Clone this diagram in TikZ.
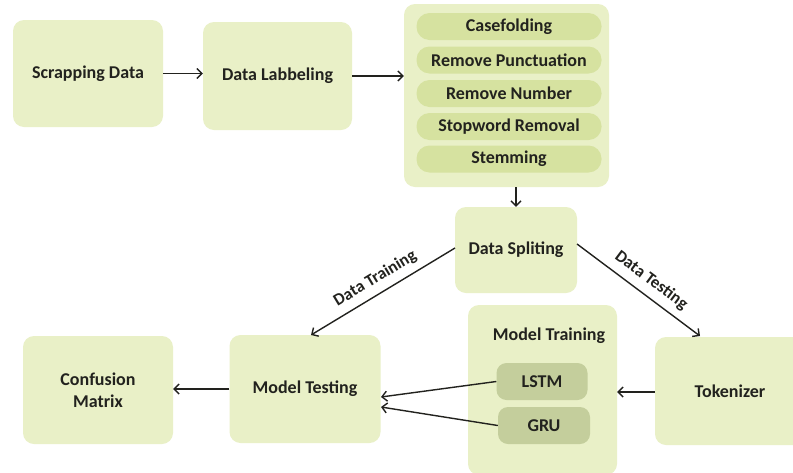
\documentclass[tikz,border=0pt]{standalone}
\usepackage{fontspec}
\setmainfont{Carlito}
\usetikzlibrary{arrows.meta}
\definecolor{boxfill}{RGB}{233,240,199}
\definecolor{pillfill}{RGB}{214,226,160}
\definecolor{modfill}{RGB}{196,206,156}
\definecolor{txt}{RGB}{34,34,30}
\tikzset{
  box/.style={fill=boxfill, rounded corners=11pt, inner sep=0pt, align=center, text=txt, font=\fontsize{18}{22}\selectfont\bfseries},
  pill/.style={fill=pillfill, rounded corners=13pt, inner sep=0pt, minimum width=185pt, minimum height=27pt, text=txt, font=\fontsize{18}{20}\selectfont\bfseries},
  modbox/.style={fill=modfill, rounded corners=10pt, inner sep=0pt, text=txt, font=\fontsize{18}{20}\selectfont\bfseries},
  conn/.style={draw=txt, line width=1.4pt, -{Straight Barb[length=5pt,width=10pt,line width=1.4pt]}},
  lbl/.style={text=txt, font=\fontsize{17}{19}\selectfont\bfseries, sloped, above, inner sep=7pt}
}
\begin{document}
\begin{tikzpicture}[x=1pt,y=-1pt]
\clip (0,0) rectangle (793,472);
\fill[white] (0,0) rectangle (793,472);
% top row
\node[box, minimum width=150pt, minimum height=107pt] (scrap) at (88,73.5) {Scrapping Data};
\node[box, minimum width=149pt, minimum height=108pt] (label) at (277.5,76) {Data Labbeling};
\node[box, minimum width=205pt, minimum height=183pt] (prep) at (506.5,95.5) {};
\node[pill] (p1) at (509,26.5) {Casefolding};
\node[pill] (p2) at (509,60) {Remove Punctuation};
\node[pill] (p3) at (509,93.5) {Remove Number};
\node[pill] (p4) at (509,126.5) {Stopword Removal};
\node[pill] (p5) at (509,159) {Stemming};
% middle
\node[box, minimum width=122pt, minimum height=86pt] (split) at (516,250) {Data Spliting};
% bottom row
\node[box, minimum width=149pt, minimum height=170pt] (mtrain) at (542.5,390) {};
\node[text=txt, font=\fontsize{18}{20}\selectfont\bfseries] (mtitle) at (549,336) {Model Training};
\node[modbox, minimum width=91pt, minimum height=37pt] (lstm) at (542,381.5) {LSTM};
\node[modbox, minimum width=92pt, minimum height=37pt] (gru) at (544,425.5) {GRU};
\node[box, minimum width=150pt, minimum height=108pt] (tok) at (730,391) {Tokenizer};
\node[box, minimum width=151pt, minimum height=108pt] (mtest) at (305,389) {Model Testing};
\node[box, minimum width=150pt, minimum height=108pt] (conf) at (98,390) {Confusion\\Matrix};
% connectors
\draw[conn] (scrap.east) -- (label.west |- scrap.east);
\draw[conn] (label.east) -- (prep.west |- label.east);
\draw[conn] (prep.south -| split.north) -- (split.north);
\coordinate (sl) at (455,248);
\coordinate (sr) at (577,244);
\coordinate (mtt) at (311,335);
\coordinate (tkt) at (700,336);
\draw[conn] (sl) -- node[lbl, pos=0.5] {Data Training} (mtt);
\draw[conn] (sr) -- node[lbl, pos=0.53] {Data Testing} (tkt);
\draw[conn] (tok.west |- 0,392) -- (mtrain.east |- 0,392);
\coordinate (mta) at (381,397);
\coordinate (mtb) at (381,407);
\draw[conn] (lstm.west) -- (mta);
\draw[conn] (gru.west) -- (mtb);
\draw[conn] (mtest.west |- 0,389) -- (conf.east |- 0,389);
\end{tikzpicture}
\end{document}
